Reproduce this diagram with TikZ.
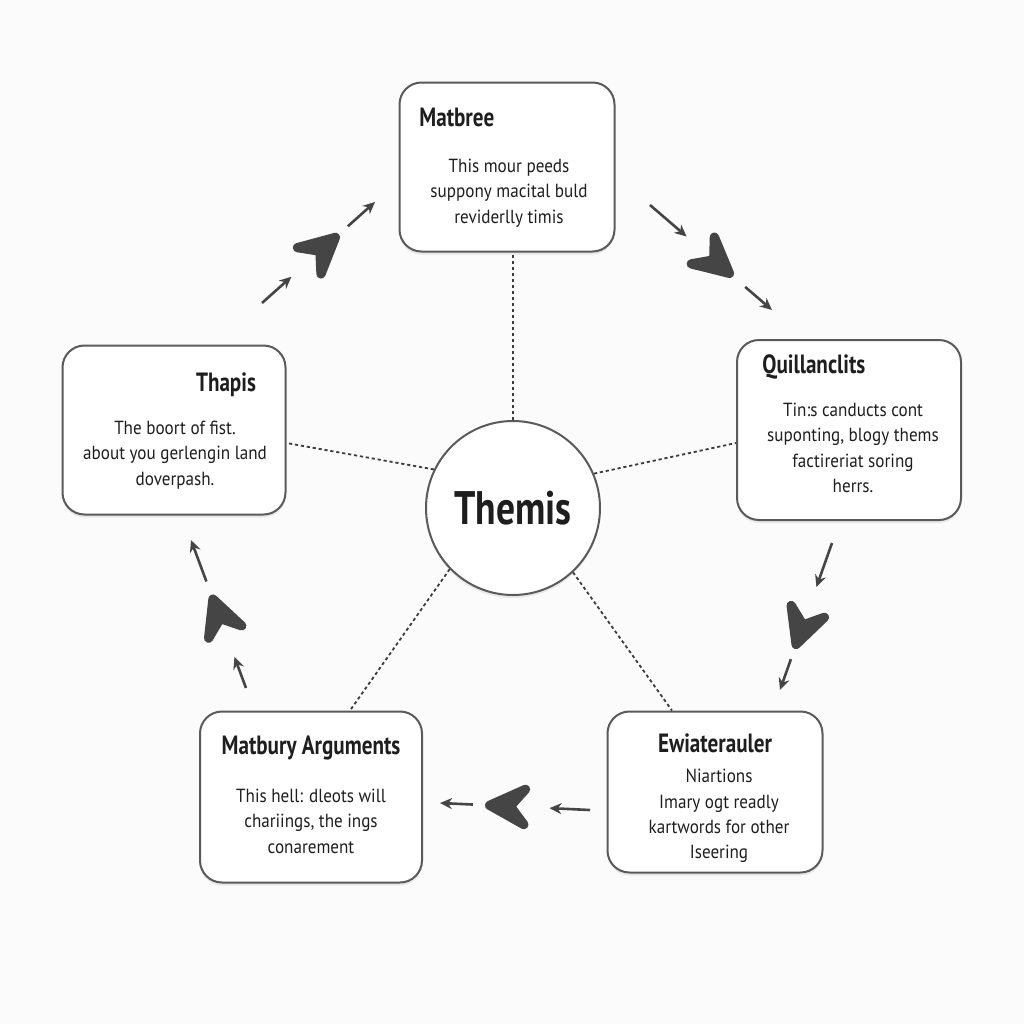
\documentclass[tikz,border=0pt]{standalone}
\usepackage{fontspec}
\setmainfont{PT Sans}[FakeStretch=0.9]
\newfontfamily\headfont{PT Sans}[FakeStretch=0.8]
\usepackage{xcolor}
\definecolor{cLine}{HTML}{5A5A5A}
\definecolor{cDots}{HTML}{3C3C3C}
\definecolor{cArrow}{HTML}{454545}
\definecolor{cText}{HTML}{1E1E1E}
\definecolor{cBack}{HTML}{FBFBFB}
\usetikzlibrary{positioning,arrows.meta,calc,shadows}
\tikzset{
  node-box/.style={draw=cLine,line width=1pt,rounded corners=11pt,fill=white,
    drop shadow={shadow xshift=0pt,shadow yshift=-1.5pt,opacity=0.15},inner sep=0pt},
  node-hub/.style={draw=cLine,line width=1pt,circle,fill=white,minimum size=87pt,
    drop shadow={shadow xshift=0pt,shadow yshift=-1.5pt,opacity=0.15},
    font=\headfont\bfseries\fontsize{23.5}{26}\selectfont,text=cText},
  node-title/.style={font=\headfont\bfseries\fontsize{13.2}{15}\selectfont,text=cText,inner sep=0pt},
  node-body/.style={font=\fontsize{9.5}{12.7}\selectfont,align=center,text=cText,inner sep=0pt},
  % dotted spokes from the hub, cycle arrows between the boxes
  link/.style={dash pattern=on 1.6pt off 1.4pt,line width=0.9pt,draw=cDots},
  arrow-small/.style={-{Stealth[length=6pt,width=5.5pt]},line width=1.3pt,draw=cArrow},
  arrow-chev/.style={-{Stealth[length=31pt,width=31pt,inset=12.5pt,round,line width=6.5pt]},
    line width=0.01pt,draw=cArrow,fill=cArrow},
}

\begin{document}
\begin{tikzpicture}[x=0.5pt,y=-0.5pt]
  \fill[cBack] (0,0) rectangle (1024,1024);
  \useasboundingbox (0,0) rectangle (1024,1024);

  \node[node-hub] (hub) at (513,508) {Themis};

  \node[node-box,minimum width=107.5pt,minimum height=84.5pt] (mat) at (507,167) {};
  \node[node-box,minimum width=111.5pt,minimum height=84.5pt] (tha) at (174,430) {};
  \node[node-box,minimum width=112pt,minimum height=90pt] (qui) at (849,430) {};
  \node[node-box,minimum width=111pt,minimum height=85.5pt] (mab) at (311,797) {};
  \node[node-box,minimum width=107.5pt,minimum height=80.5pt] (ewi) at (715,792) {};

  \node[node-title,anchor=west] (mat-t) at (419,117) {Matbree};
  \node[node-body] (mat-b) at (509,193) {This mour peeds\\suppony macital buld\\reviderlly timis};
  \node[node-title] (tha-t) at (226,385) {Thapis};
  \node[node-body] (tha-b) at (175,455) {The boort of fist.\\about you gerlengin land\\doverpash.};
  \node[node-title,anchor=west] (qui-t) at (762,367) {Quillanclits};
  \node[node-body] (qui-b) at (853,448) {Tin:s canducts cont\\suponting, blogy thems\\factireriat soring\\herrs.};
  \node[node-title] (mab-t) at (311,748) {Matbury Arguments};
  \node[node-body] (mab-b) at (311,821) {This hell: dleots will\\chariings, the ings\\conarement};
  \node[node-title] (ewi-t) at (715,743) {Ewiaterauler};
  \node[node-body] (ewi-b) at (719,816) {Niartions\\Imary ogt readly\\kartwords for other\\Iseering};

  \draw[link] (hub.north) -- (hub.north |- mat.south);
  \draw[link] (hub.154) -- ([yshift=-6.5pt]tha.east);
  \draw[link] (hub.23) -- ([yshift=-6.5pt]qui.west);
  \draw[link] (hub.224) -- ([xshift=19.5pt]mab.north);
  \draw[link] (hub.313) -- ([xshift=-21.5pt]ewi.north);

  \coordinate (tl-s) at (262,303); \coordinate (tl-e) at (375,202);
  \coordinate (tr-s) at (650,205); \coordinate (tr-e) at (772,310);
  \coordinate (rd-s) at (832,543); \coordinate (rd-e) at (780,690);
  \coordinate (bt-s) at (590,810); \coordinate (bt-e) at (440,803);
  \coordinate (lu-s) at (246,688); \coordinate (lu-e) at (191,540);

  \draw[arrow-small] (tl-s) -- ($(tl-s)!0.26!(tl-e)$);
  \draw[arrow-chev] ($(tl-s)!0.58!(tl-e)$) -- ($(tl-s)!0.68!(tl-e)$);
  \draw[arrow-small] ($(tl-s)!0.76!(tl-e)$) -- (tl-e);
  \draw[arrow-small] (tr-s) -- ($(tr-s)!0.3!(tr-e)$);
  \draw[arrow-chev] ($(tr-s)!0.58!(tr-e)$) -- ($(tr-s)!0.68!(tr-e)$);
  \draw[arrow-small] ($(tr-s)!0.78!(tr-e)$) -- (tr-e);
  \draw[arrow-small] (rd-s) -- ($(rd-s)!0.3!(rd-e)$);
  \draw[arrow-chev] ($(rd-s)!0.62!(rd-e)$) -- ($(rd-s)!0.72!(rd-e)$);
  \draw[arrow-small] ($(rd-s)!0.79!(rd-e)$) -- (rd-e);
  \draw[arrow-small] (bt-s) -- ($(bt-s)!0.27!(bt-e)$);
  \draw[arrow-chev] ($(bt-s)!0.6!(bt-e)$) -- ($(bt-s)!0.7!(bt-e)$);
  \draw[arrow-small] ($(bt-s)!0.78!(bt-e)$) -- (bt-e);
  \draw[arrow-small] (lu-s) -- ($(lu-s)!0.21!(lu-e)$);
  \draw[arrow-chev] ($(lu-s)!0.53!(lu-e)$) -- ($(lu-s)!0.63!(lu-e)$);
  \draw[arrow-small] ($(lu-s)!0.72!(lu-e)$) -- (lu-e);
\end{tikzpicture}
\end{document}
